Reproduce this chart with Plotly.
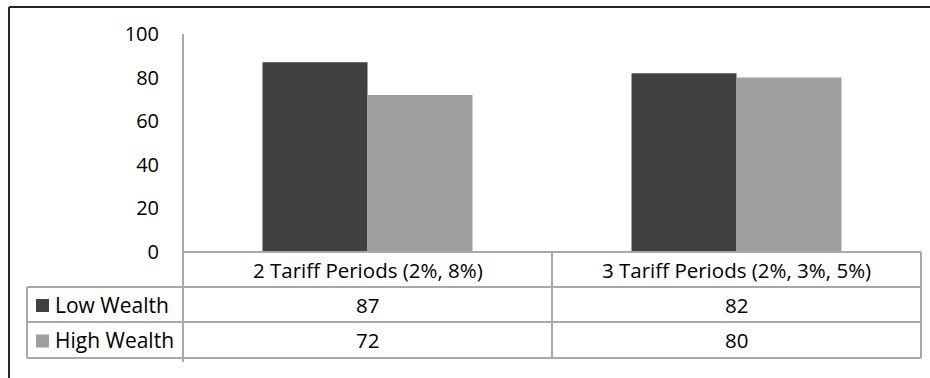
import plotly.graph_objects as go

categories = ["2 Tariff Periods (2%, 8%)", "3 Tariff Periods (2%, 3%, 5%)"]
series_names = ["Low Wealth", "High Wealth"]
low_wealth = [87, 82]
high_wealth = [72, 80]
y_ticks = [0, 20, 40, 60, 80, 100]

colors = ["#404040", "#9e9e9e"]
W, H = 930, 378
FONT = "Open Sans"
GRID = "#a8a8a8"
TEXT_COLOR = "#000000"


def px(x):
    return x / W


def py(y):
    return 1 - y / H


# pixel layout of plot area and data table
X0, X1 = 183, 921          # plot / table horizontal extent
Y_ZERO, Y_TOP = 252, 34    # y=0 and y=100 pixel positions
LEG_X = 27                 # left edge of legend column
ROWS = [252, 287, 322, 358]  # table row boundaries

fig = go.Figure()
for name, vals, col in zip(series_names, [low_wealth, high_wealth], colors):
    fig.add_trace(go.Bar(x=categories, y=vals, name=name, marker_color=col,
                         marker_line_width=0, showlegend=False))

fig.update_layout(
    width=W, height=H, autosize=False,
    margin=dict(l=0, r=0, t=0, b=0, pad=0, autoexpand=False),
    paper_bgcolor="white", plot_bgcolor="white",
    barmode="group", bargap=0.431, bargroupgap=0,
    font=dict(family=FONT, size=20, color=TEXT_COLOR),
    xaxis=dict(domain=[px(X0), px(X1)], showticklabels=False, showline=False,
               showgrid=False, zeroline=False, fixedrange=True, automargin=False),
    yaxis=dict(domain=[py(Y_ZERO), py(Y_TOP)], range=[0, 100],
               tickvals=y_ticks, ticktext=[str(v) for v in y_ticks],
               showgrid=False, zeroline=False, showline=False, automargin=False,
               ticks="outside", ticklen=19, tickcolor="rgba(0,0,0,0)",
               tickfont=dict(family=FONT, size=20, color=TEXT_COLOR)),
)

shapes = []
# outer chart border (top and left edges)
shapes.append(dict(type="line", xref="paper", yref="paper", x0=px(9), x1=1.0,
                   y0=py(7), y1=py(7), line=dict(color="#262626", width=2)))
shapes.append(dict(type="line", xref="paper", yref="paper", x0=px(9), x1=px(9),
                   y0=py(7), y1=0, line=dict(color="#262626", width=2)))
# vertical axis line running into the table
shapes.append(dict(type="line", xref="paper", yref="paper", x0=px(X0), x1=px(X0),
                   y0=py(Y_TOP), y1=py(ROWS[-1] + 4), line=dict(color=GRID, width=2)))
# horizontal table lines
for i, yr in enumerate(ROWS):
    xl = X0 if i == 0 else LEG_X
    shapes.append(dict(type="line", xref="paper", yref="paper", x0=px(xl), x1=px(X1),
                       y0=py(yr), y1=py(yr), line=dict(color=GRID, width=2)))
# vertical table lines
XMID = (X0 + X1) / 2
for xv in [XMID, X1]:
    shapes.append(dict(type="line", xref="paper", yref="paper", x0=px(xv), x1=px(xv),
                       y0=py(ROWS[0]), y1=py(ROWS[-1]), line=dict(color=GRID, width=2)))
shapes.append(dict(type="line", xref="paper", yref="paper", x0=px(LEG_X), x1=px(LEG_X),
                   y0=py(ROWS[1]), y1=py(ROWS[-1]), line=dict(color=GRID, width=2)))
# legend swatches
for r, col in enumerate(colors):
    yc = (ROWS[r + 1] + ROWS[r + 2]) / 2 + 1
    shapes.append(dict(type="rect", xref="paper", yref="paper",
                       x0=px(36), x1=px(49), y0=py(yc + 6.5), y1=py(yc - 6.5),
                       fillcolor=col, line=dict(width=0)))

annotations = []
TXT = dict(family=FONT, size=20.5, color=TEXT_COLOR)
cell_centers = [(X0 + XMID) / 2, (XMID + X1) / 2]
for cx, cat in zip(cell_centers, categories):
    annotations.append(dict(xref="paper", yref="paper", x=px(cx), y=py((ROWS[0] + ROWS[1]) / 2),
                            text=cat, showarrow=False, font=TXT,
                            xanchor="center", yanchor="middle"))
for r, (name, vals) in enumerate(zip(series_names, [low_wealth, high_wealth])):
    yc = (ROWS[r + 1] + ROWS[r + 2]) / 2
    annotations.append(dict(xref="paper", yref="paper", x=px(53), y=py(yc),
                            text=name, showarrow=False,
                            font=dict(family=FONT, size=21, color=TEXT_COLOR),
                            xanchor="left", yanchor="middle"))
    for cx, v in zip(cell_centers, vals):
        annotations.append(dict(xref="paper", yref="paper", x=px(cx), y=py(yc),
                                text=str(v), showarrow=False, font=TXT,
                                xanchor="center", yanchor="middle"))

fig.update_layout(shapes=shapes, annotations=annotations)
fig.write_html("out.html")
